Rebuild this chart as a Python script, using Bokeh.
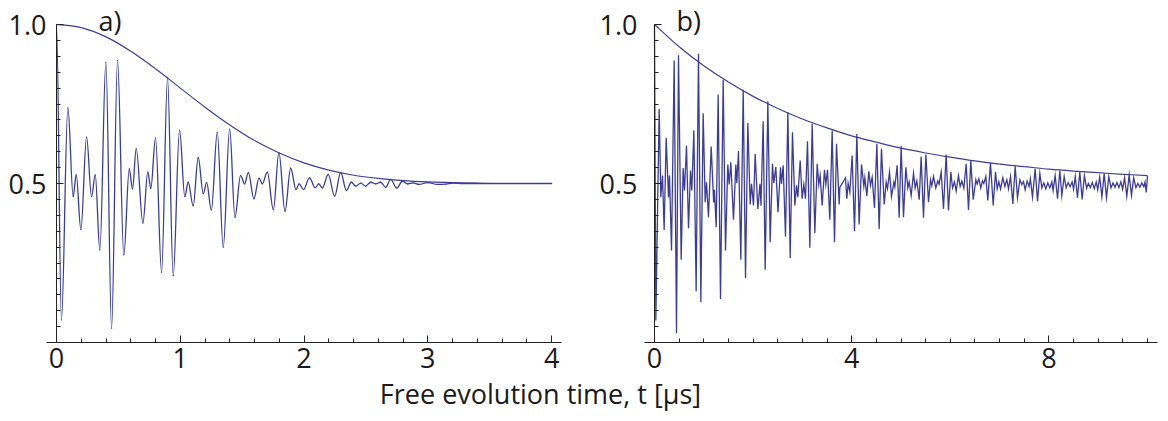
import numpy as np
from bokeh.plotting import figure
from bokeh.models import FixedTicker, Range1d, Label, LinearAxis
from bokeh.embed import file_html
from bokeh.resources import INLINE

# ---------------- data ----------------
# panel a) : local extrema of the signal (t in us, probability)
a_t = [0.000, 0.040, 0.092, 0.135, 0.159, 0.197, 0.243, 0.283, 0.313, 0.350,
       0.399, 0.445, 0.493, 0.544, 0.588, 0.614, 0.644, 0.698, 0.738, 0.762,
       0.800, 0.849, 0.897, 0.943, 0.994, 1.037, 1.064, 1.104, 1.145, 1.186,
       1.213, 1.251, 1.299, 1.347, 1.399, 1.442, 1.487, 1.520, 1.550, 1.595,
       1.636, 1.663, 1.703, 1.752, 1.797, 1.846, 1.892, 1.935, 1.960, 1.996,
       2.044, 2.090, 2.118, 2.148, 2.195, 2.247, 2.296, 2.343, 2.382, 2.417,
       2.458, 2.498, 2.538, 2.579, 2.619, 2.660, 2.700, 2.749, 2.795, 2.835,
       2.880, 2.929, 2.997, 3.078, 3.145, 3.199, 3.270, 4.000]
a_y = [1.000, 0.071, 0.738, 0.459, 0.527, 0.355, 0.646, 0.459, 0.527, 0.291,
       0.881, 0.045, 0.887, 0.276, 0.546, 0.483, 0.609, 0.376, 0.536, 0.485,
       0.643, 0.221, 0.832, 0.211, 0.667, 0.459, 0.504, 0.430, 0.581, 0.468,
       0.503, 0.417, 0.661, 0.300, 0.671, 0.394, 0.525, 0.499, 0.534, 0.452,
       0.517, 0.499, 0.536, 0.418, 0.597, 0.413, 0.548, 0.481, 0.499, 0.481,
       0.518, 0.487, 0.499, 0.486, 0.529, 0.460, 0.534, 0.478, 0.504, 0.492,
       0.501, 0.492, 0.504, 0.499, 0.504, 0.488, 0.513, 0.486, 0.507, 0.499,
       0.502, 0.497, 0.503, 0.497, 0.498, 0.501, 0.500, 0.500]
# panel a) : Gaussian envelope
a_env_t = [0.0, 0.2, 0.4, 0.6, 0.8, 1.0, 1.2, 1.4, 1.6, 1.8, 2.0, 2.2, 2.4,
           2.6, 2.8, 3.0, 3.2, 3.4, 3.6, 4.0]
a_env_y = [1.000, 0.990, 0.961, 0.916, 0.861, 0.800, 0.740, 0.684, 0.635,
           0.596, 0.565, 0.542, 0.526, 0.516, 0.509, 0.505, 0.503, 0.501,
           0.500, 0.500]

# panel b) : local extrema of the signal
b_t = [0.000, 0.027, 0.095, 0.128, 0.162, 0.196, 0.237, 0.284, 0.304, 0.345,
       0.399, 0.446, 0.487, 0.541, 0.581, 0.608, 0.649, 0.690, 0.730, 0.757,
       0.798, 0.845, 0.892, 0.940, 0.987, 1.028, 1.055, 1.095, 1.150, 1.200,
       1.215, 1.251, 1.291, 1.339, 1.393, 1.440, 1.487, 1.515, 1.548, 1.602,
       1.650, 1.670, 1.704, 1.751, 1.799, 1.846, 1.893, 1.941, 1.968, 2.008,
       2.042, 2.096, 2.140, 2.160, 2.204, 2.245, 2.299, 2.346, 2.393, 2.420,
       2.461, 2.505, 2.556, 2.576, 2.610, 2.657, 2.705, 2.752, 2.799, 2.847,
       2.880, 2.907, 2.955, 2.995, 3.029, 3.063, 3.103, 3.151, 3.198, 3.252,
       3.300, 3.333, 3.360, 3.401, 3.448, 3.475, 3.509, 3.556, 3.604, 3.651,
       3.692, 3.746, 3.759, 3.874, 3.901, 3.928, 3.962, 4.009, 4.057, 4.104,
       4.151, 4.199, 4.246, 4.266, 4.307, 4.347, 4.381, 4.415, 4.462, 4.510,
       4.557, 4.604, 4.659, 4.699, 4.726, 4.767, 4.807, 4.855, 4.875, 4.922,
       4.963, 5.003, 5.051, 5.098, 5.139, 5.166, 5.206, 5.254, 5.287, 5.321,
       5.369, 5.409, 5.456, 5.504, 5.558, 5.598, 5.625, 5.659, 5.706, 5.746,
       5.773, 5.815, 5.862, 5.916, 5.963, 6.011, 6.045, 6.085, 6.119, 6.166,
       6.200, 6.234, 6.274, 6.322, 6.369, 6.416, 6.464, 6.518, 6.545, 6.579,
       6.619, 6.653, 6.680, 6.720, 6.761, 6.815, 6.870, 6.917, 6.951, 6.985,
       7.019, 7.066, 7.107, 7.147, 7.181, 7.222, 7.269, 7.316, 7.363, 7.411,
       7.451, 7.485, 7.519, 7.559, 7.599, 7.625, 7.667, 7.721, 7.769, 7.816,
       7.857, 7.897, 7.938, 7.978, 8.019, 8.060, 8.085, 8.127, 8.175, 8.222,
       8.262, 8.310, 8.350, 8.390, 8.430, 8.470, 8.500, 8.535, 8.580, 8.627,
       8.675, 8.720, 8.765, 8.800, 8.840, 8.880, 8.920, 8.960, 8.990, 9.030,
       9.075, 9.121, 9.168, 9.215, 9.260, 9.300, 9.340, 9.380, 9.420, 9.460,
       9.495, 9.535, 9.580, 9.628, 9.675, 9.720, 9.765, 9.805, 9.845, 9.885,
       9.925, 9.950, 9.975, 10.000]
b_y = [1.000, 0.069, 0.735, 0.457, 0.525, 0.354, 0.644, 0.457, 0.525, 0.289,
       0.887, 0.029, 0.903, 0.260, 0.549, 0.478, 0.619, 0.359, 0.541, 0.478,
       0.667, 0.161, 0.908, 0.127, 0.721, 0.441, 0.504, 0.394, 0.616, 0.440,
       0.480, 0.363, 0.780, 0.137, 0.826, 0.289, 0.560, 0.497, 0.567, 0.386,
       0.560, 0.501, 0.602, 0.260, 0.795, 0.203, 0.690, 0.434, 0.499, 0.431,
       0.593, 0.420, 0.499, 0.430, 0.696, 0.229, 0.759, 0.315, 0.562, 0.501,
       0.552, 0.410, 0.551, 0.499, 0.557, 0.333, 0.724, 0.266, 0.661, 0.431,
       0.494, 0.457, 0.572, 0.452, 0.497, 0.452, 0.633, 0.298, 0.688, 0.344,
       0.562, 0.497, 0.525, 0.431, 0.543, 0.497, 0.543, 0.386, 0.667, 0.315,
       0.625, 0.434, 0.488, 0.518, 0.452, 0.500, 0.473, 0.588, 0.350, 0.656,
       0.371, 0.560, 0.491, 0.518, 0.461, 0.538, 0.494, 0.520, 0.423, 0.625,
       0.357, 0.609, 0.434, 0.504, 0.484, 0.536, 0.459, 0.504, 0.489, 0.557,
       0.392, 0.617, 0.394, 0.551, 0.486, 0.505, 0.462, 0.532, 0.486, 0.508,
       0.449, 0.585, 0.392, 0.591, 0.441, 0.512, 0.493, 0.522, 0.486, 0.508,
       0.498, 0.536, 0.420, 0.591, 0.415, 0.536, 0.486, 0.505, 0.476, 0.525,
       0.491, 0.508, 0.486, 0.562, 0.417, 0.572, 0.449, 0.512, 0.498, 0.515,
       0.486, 0.508, 0.500, 0.522, 0.447, 0.565, 0.431, 0.536, 0.483, 0.505,
       0.483, 0.518, 0.491, 0.512, 0.483, 0.522, 0.436, 0.554, 0.455, 0.512,
       0.497, 0.506, 0.480, 0.508, 0.491, 0.515, 0.457, 0.546, 0.444, 0.532,
       0.486, 0.502, 0.483, 0.502, 0.486, 0.505, 0.478, 0.525, 0.452, 0.541,
       0.462, 0.522, 0.487, 0.503, 0.490, 0.505, 0.482, 0.522, 0.455, 0.536,
       0.450, 0.525, 0.485, 0.500, 0.487, 0.503, 0.484, 0.505, 0.480, 0.520,
       0.458, 0.531, 0.455, 0.522, 0.486, 0.502, 0.488, 0.503, 0.487, 0.505,
       0.482, 0.518, 0.460, 0.527, 0.462, 0.518, 0.487, 0.500, 0.488, 0.502,
       0.490, 0.505, 0.472, 0.524]
# panel b) : exponential envelope
b_env_t = [0.0, 0.5, 1.0, 1.5, 2.0, 2.5, 3.0, 3.5, 4.0, 4.5, 5.0, 5.5, 6.0,
           6.5, 7.0, 7.5, 8.0, 8.5, 9.0, 9.5, 10.0]
b_env_y = [1.000, 0.930, 0.870, 0.819, 0.774, 0.736, 0.703, 0.675, 0.650,
           0.630, 0.611, 0.596, 0.583, 0.571, 0.561, 0.553, 0.545, 0.539,
           0.534, 0.529, 0.525]

# ticks and texts
a_xticks = [0, 1, 2, 3, 4]
b_xticks = [0, 4, 8]
y_ticks = [0.5, 1.0]
y_tick_labels = {0.5: "0.5", 1.0: "1.0"}
panel_labels = ["a)", "b)"]
x_title = "Free evolution time, t [\u03bcs]"

# ---------------- styling ----------------
LINE = "#3d3d99"
AXIS = "#222222"
TXT = "#1a1a1a"
FONT = "Open Sans"
FS = "27px"
W, H = 1168, 421

a_xminor = [round(0.2 * i, 2) for i in range(1, 21) if i % 5]
b_xminor = [round(0.5 * i, 2) for i in range(1, 21) if i % 8]
y_minor = [round(0.05 * i, 2) for i in range(1, 20) if i != 10]

# pixel geometry of the reference (frame = whole canvas)
PY0, PY1 = 342.0, 24.0          # pixel rows of y=0 and y=1
AX0, AXS = 56.0, 505.0 / 4.08   # panel a: pixel of t=0, px per us
BX0, BXS = 654.0, 49.3          # panel b: pixel of t=0, px per us
ys = PY0 - PY1
y_rng = Range1d(-(H - PY0) / ys, PY0 / ys)
xa_rng = Range1d(-AX0 / AXS, (W - AX0) / AXS)
xb_rng = Range1d(-BX0 / BXS, (W - BX0) / BXS)


def ydata(px):
    return (PY0 - px) / ys


def smooth_extrema(p, t, y, **kw):
    t = np.asarray(t, float)
    y = np.asarray(y, float)
    x0, x1, y0, y1 = t[:-1], t[1:], y[:-1], y[1:]
    k = 0.3634
    dx = x1 - x0
    p.bezier(x0=x0, y0=y0, x1=x1, y1=y1, cx0=x0 + k * dx, cy0=y0,
             cx1=x1 - k * dx, cy1=y1, **kw)


def smooth_curve(p, t, y, **kw):
    t = np.asarray(t, float)
    y = np.asarray(y, float)
    n = len(t)
    i = np.arange(n - 1)
    im = np.maximum(i - 1, 0)
    ip = np.minimum(i + 2, n - 1)
    cx0 = t[i] + (t[i + 1] - t[im]) / 6.0
    cy0 = y[i] + (y[i + 1] - y[im]) / 6.0
    cx1 = t[i + 1] - (t[ip] - t[i]) / 6.0
    cy1 = y[i + 1] - (y[ip] - y[i]) / 6.0
    p.bezier(x0=t[i], y0=y[i], x1=t[i + 1], y1=y[i + 1], cx0=cx0, cy0=cy0,
             cx1=cx1, cy1=cy1, **kw)


def base_axis(ax):
    ax.axis_line_color = AXIS
    ax.axis_line_width = 1
    ax.major_tick_line_color = AXIS
    ax.minor_tick_line_color = AXIS
    ax.major_tick_in = 0
    ax.minor_tick_in = 0
    ax.major_tick_out = 7
    ax.minor_tick_out = 4
    ax.major_label_text_font = FONT
    ax.major_label_text_font_size = FS
    ax.major_label_text_color = TXT
    return ax


p = figure(width=W, height=H, x_range=xa_rng, y_range=y_rng,
           x_axis_location=None, y_axis_location=None,
           min_border=0, min_border_left=0, min_border_right=0,
           min_border_top=0, min_border_bottom=0,
           toolbar_location=None, output_backend="svg",
           outline_line_color=None, background_fill_color="white",
           border_fill_color="white")
p.extra_x_ranges = {"b": xb_rng}
p.xgrid.visible = False
p.ygrid.visible = False

# x axes: drawn at y = 0, ticks pointing up, labels below the axis
X_LABEL_STANDOFF = -32
for rng_name, ticks, minor, bnd in (("default", a_xticks, a_xminor, (-0.08, 4.08)),
                                    ("b", b_xticks, b_xminor, (-0.2, 10.2))):
    ax = base_axis(LinearAxis(x_range_name=rng_name, fixed_location=0,
                              bounds=bnd,
                              ticker=FixedTicker(ticks=ticks, minor_ticks=minor)))
    ax.major_label_standoff = X_LABEL_STANDOFF
    p.add_layout(ax, "above")

# y axes: drawn at t = 0, ticks pointing right, labels to the left
LAB_W = 38   # width of a tick-label box
for rng_name, gap in (("default", 10), ("b", 17)):
    ax = base_axis(LinearAxis(x_range_name=rng_name, fixed_location=0,
                              bounds=(0, 1.0005),
                              ticker=FixedTicker(ticks=y_ticks, minor_ticks=y_minor)))
    ax.major_label_overrides = y_tick_labels
    ax.major_label_standoff = -(7 + gap + LAB_W)
    p.add_layout(ax, "right")

# curves
smooth_curve(p, a_env_t, a_env_y, line_color=LINE, line_width=1.2)
smooth_extrema(p, a_t, a_y, line_color=LINE, line_width=1.3, line_cap="round")
smooth_curve(p, b_env_t, b_env_y, line_color=LINE, line_width=1.2,
             x_range_name="b")
p.line(b_t, b_y, line_color=LINE, line_width=1.3, line_join="miter",
       x_range_name="b")

# panel labels and shared title
p.add_layout(Label(x=(98 - AX0) / AXS, y=ydata(1), text=panel_labels[0],
                   text_font=FONT, text_font_size=FS, text_color=TXT,
                   text_baseline="top", text_align="left"))
p.add_layout(Label(x=(676 - BX0) / BXS, y=ydata(1), text=panel_labels[1],
                   x_range_name="b", text_font=FONT, text_font_size=FS,
                   text_color=TXT, text_baseline="top", text_align="left"))
p.add_layout(Label(x=(540 - AX0) / AXS, y=ydata(374), text=x_title,
                   text_font=FONT, text_font_size=FS, text_color=TXT,
                   text_baseline="top", text_align="center"))

open("out.html", "w").write(file_html(p, INLINE))
